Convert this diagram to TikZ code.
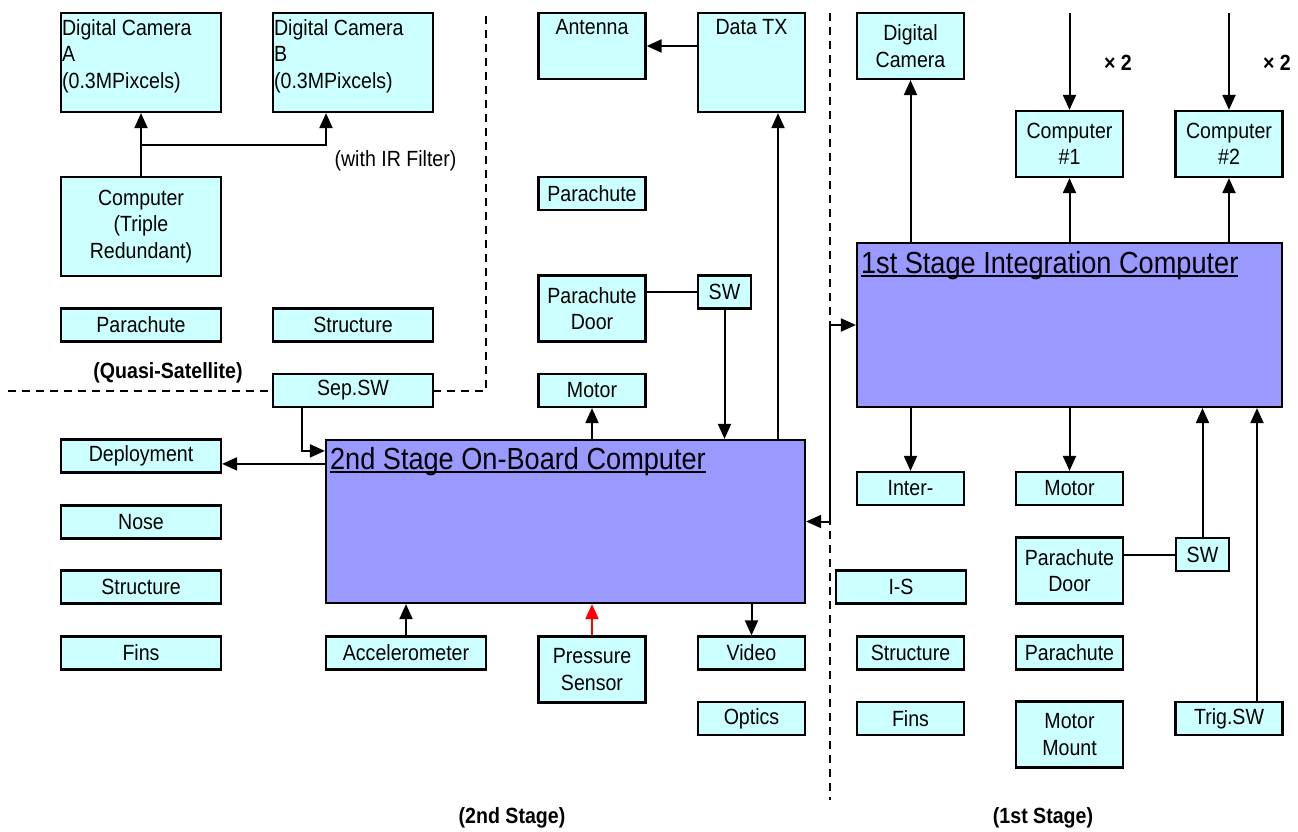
\documentclass[tikz,border=0pt]{standalone}
\usepackage{fontspec}
\setmainfont[FakeStretch=0.89]{Liberation Sans}
\usetikzlibrary{arrows.meta,positioning}
\definecolor{cellcyan}{HTML}{CCFFFF}
\definecolor{cpuviolet}{HTML}{9999FF}
\newcommand{\boxfont}{\fontsize{22}{26.5}\selectfont}
\newcommand{\titlefont}{\fontsize{30.5}{34}\selectfont}
\newcommand{\thickul}[1]{\leavevmode\setbox0=\hbox{#1}\rlap{\rule[-4pt]{\wd0}{2pt}}\box0}

\begin{document}
\begin{tikzpicture}[x=1pt, y=-1pt, >={Triangle[length=15pt,width=13pt]},
  box/.style={draw, fill=cellcyan, line width=2.2pt, inner sep=0pt, align=center, font=\boxfont},
  wide/.style={box, minimum width=160pt, minimum height=33pt},
  unit/.style={box, minimum width=107pt, minimum height=33pt},
  tall/.style={box, minimum width=107pt, minimum height=66pt},
  big/.style={box, minimum width=160pt, minimum height=99pt},
  topleft/.style={anchor=north west, inner xsep=2pt, inner ysep=7pt, align=left, font=\boxfont},
  toptext/.style={anchor=north, inner sep=7pt, font=\boxfont},
  cpu/.style={draw, fill=cpuviolet, line width=2.2pt, inner sep=0pt},
  cputitle/.style={anchor=north west, inner xsep=5pt, inner ysep=8pt, font=\titlefont},
  link/.style={->, line width=2pt},
  divider/.style={line width=2pt, dash pattern=on 8pt off 6pt},
  tag/.style={font=\boxfont\bfseries}]
\useasboundingbox (0,0) rectangle (1298,832);

\draw[divider] (8,391) -- (273,391);
\draw[divider] (433,391) -- (486,391) -- (486,13);
\draw[divider] (830,13) -- (830,800);

\node[big, label={[topleft]north west:{Digital Camera\\A\\(0.3MPixcels)}}] (camA) at (141,62.5) {};
\node[big, label={[topleft]north west:{Digital Camera\\B\\(0.3MPixcels)}}] (camB) at (353,62.5) {};
\node[big] (tricomp) at (141,226.5) {Computer\\(Triple\\Redundant)};
\node[wide] (qspara) at (141,325) {Parachute};
\node[wide] (qsstruct) at (353,325) {Structure};
\node[wide] (sepsw) at (353,390.5) {Sep.SW};
\node[font=\boxfont] (irlabel) at (395.5,161) {(with IR Filter)};
\node[tag] (qslabel) at (168,373) {(Quasi-Satellite)};

\node[wide] (deploy) at (141,456) {Deployment};
\node[wide] (nose) at (141,522) {Nose};
\node[wide] (struct2) at (141,587) {Structure};
\node[wide] (fins2) at (141,653) {Fins};

\node[cpu, minimum width=479pt, minimum height=163pt,
  label={[cputitle]north west:\thickul{2nd Stage On-Board Computer}}] (obc) at (565.5,521.5) {};
\node[wide] (accel) at (406,653) {Accelerometer};
\node[tall] (press) at (592,669.5) {Pressure\\Sensor};
\node[unit] (video) at (751.5,653) {Video};
\node[unit] (optics) at (751.5,718.5) {Optics};

\node[tall, label={[toptext]north:Antenna}] (antenna) at (592,46) {};
\node[box, minimum width=107pt, minimum height=99pt, label={[toptext]north:Data TX}] (datatx) at (751.5,62.5) {};
\node[unit] (para2) at (592,193.5) {Parachute};
\node[tall] (door2) at (592,308.5) {Parachute\\Door};
\node[box, minimum width=53pt, minimum height=33pt] (sw2) at (724.5,292) {SW};
\node[unit] (motor2) at (592,390.5) {Motor};
\node[tag] (stage2) at (512,818) {(2nd Stage)};

\node[tall] (cam1) at (910.5,46) {Digital\\Camera};
\node[tall] (comp1) at (1069.5,144) {Computer\\\#1};
\node[tall] (comp2) at (1229,144) {Computer\\\#2};
\node[tag] (times1) at (1118,63) {× 2};
\node[tag] (times2) at (1277,63) {× 2};
\node[cpu, minimum width=425pt, minimum height=164pt,
  label={[cputitle, inner ysep=9pt]north west:\thickul{1st Stage Integration Computer}}] (ic) at (1069.5,325) {};
\node[unit] (inter) at (910.5,488.5) {Inter-};
\node[unit] (motor1) at (1069.5,488.5) {Motor};
\node[tall] (door1) at (1069.5,570.5) {Parachute\\Door};
\node[box, minimum width=53pt, minimum height=33pt] (sw1) at (1202.5,554.5) {SW};
\node[box, minimum width=130pt, minimum height=33pt] (is) at (901,587) {I-S};
\node[unit] (struct1) at (910.5,653) {Structure};
\node[unit] (para1) at (1069.5,653) {Parachute};
\node[unit] (fins1) at (910.5,718.5) {Fins};
\node[tall] (mount) at (1069.5,734.5) {Motor\\Mount};
\node[unit] (trigsw) at (1229,718.5) {Trig.SW};
\node[tag] (stage1) at (1043,818) {(1st Stage)};

\coordinate (filterin) at ([xshift=-27pt]camB.south);
\coordinate (sepout) at ([xshift=-51pt]sepsw.south);
\coordinate (deployout) at ([yshift=-25pt]obc.north west);
\coordinate (txin) at ([xshift=26.5pt]datatx.south);
\coordinate (trigout) at ([xshift=28pt]trigsw.north);
\coordinate (feed1) at (1069.5,13);
\coordinate (feed2) at (1229,13);
\coordinate (bus) at (830,0);

\draw[link] (tricomp.north) -- (camA.south);
\draw[link] (tricomp.north |- 0,145) -| (filterin);
\draw[link] (sepout) |- ([yshift=-12pt]obc.north west);
\draw[link] (deployout) -- (deployout -| deploy.east);
\draw[link] (obc.north -| motor2) -- (motor2.south);
\draw[link] (sw2.south) -- (sw2.south |- obc.north);
\draw[line width=2pt] (sw2.west) -- (sw2.west -| door2.east);
\draw[link] (obc.north -| txin) -- (txin);
\draw[link] (datatx.west |- antenna) -- (antenna.east);
\draw[link] (accel.north) -- (accel.north |- obc.south);
\draw[link, red] (press.north) -- (press.north |- obc.south);
\draw[link] (obc.south -| video) -- (video.north);

\draw[link] (bus |- ic.west) -- (ic.west);
\draw[link] (bus |- ic.west) -- (bus |- obc.east) -- (obc.east);

\draw[link] (ic.north -| cam1) -- (cam1.south);
\draw[link] (ic.north -| comp1) -- (comp1.south);
\draw[link] (ic.north -| comp2) -- (comp2.south);
\draw[link] (feed1) -- (comp1.north);
\draw[link] (feed2) -- (comp2.north);
\draw[link] (ic.south -| inter) -- (inter.north);
\draw[link] (ic.south -| motor1) -- (motor1.north);
\draw[line width=2pt] (sw1.west) -- (sw1.west -| door1.east);
\draw[link] (sw1.north) -- (sw1.north |- ic.south);
\draw[link] (trigout) -- (trigout |- ic.south);
\end{tikzpicture}
\end{document}
